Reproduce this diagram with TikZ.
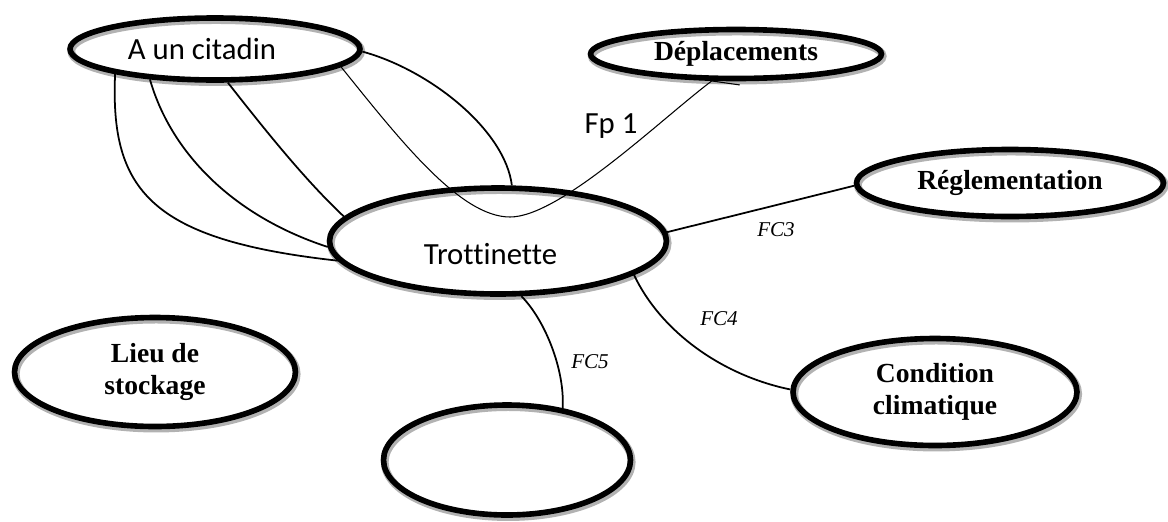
\documentclass[tikz,border=0pt]{standalone}
\usepackage{fontspec}
\usetikzlibrary{shapes.geometric}
\newfontfamily\calibrifont[Ligatures=NoCommon]{Carlito}
\newfontfamily\timesfont{Liberation Serif}
\tikzset{%
  bubble/.style    = {shape=ellipse, draw, line width=3.2pt, inner sep=0pt,%
                      align=center,%
                      preaction={draw=black!30, line width=4.4pt,%
                                 transform canvas={shift={(0.7pt,-1.2pt)}}}},%
  sansbubble/.style  = {bubble, font=\calibrifont\fontsize{17.5}{20}\selectfont},%
  serifbubble/.style = {bubble, font=\timesfont\bfseries\fontsize{15.7}{18}\selectfont},%
  link/.style      = {line width=1pt},%
  thinlink/.style  = {line width=0.6pt},%
  fclabel/.style   = {font=\timesfont\itshape\fontsize{12}{12}\selectfont, inner sep=0pt}%
}
\begin{document}
\begin{tikzpicture}[x=0.02cm,y=-0.02cm]
  \useasboundingbox (0,0) rectangle (1168,521);
  % les milieux
  \node[sansbubble, minimum width=5.8cm, minimum height=1.24cm] (cit) at (215,49) {A un citadin\hspace*{0.52cm}};
  \node[serifbubble, minimum width=5.82cm, minimum height=0.98cm] (dep) at (736,54) {D\'eplacements};
  \node[serifbubble, minimum width=6.14cm, minimum height=1.34cm] (reg) at (1010,183) {R\'eglementation};
  \node[sansbubble, minimum width=6.74cm, minimum height=2.12cm] (trot) at (498,241) {\rule{0pt}{0.95cm}Trottinette\hspace*{0.3cm}};
  \node[serifbubble, minimum width=5.62cm, minimum height=2.18cm] (lieu) at (155,372) {Lieu de\\stockage};
  \node[serifbubble, minimum width=5.68cm, minimum height=2.14cm] (clim) at (935,392) {Condition\\climatique};
  \node[bubble, minimum width=4.94cm, minimum height=2.2cm] (vide) at (507,460) {};
  % liaisons citadin -- trottinette
  \draw[link] (cit.194) .. controls (110,190) and (150,240) .. (trot.187.6);
  \draw[link] (cit.205) .. controls (170,150) and (230,215) .. (trot.182);
  \draw[link] (cit.291) .. controls (265,130) and (305,180) .. (trot.171.5);
  \draw[link] (cit.359) .. controls (430,70) and (505,130) .. (trot.76);
  % fonction principale
  \coordinate (fpbas) at (510,217);
  \draw[thinlink] (cit.352) .. controls (400,140) and (460,217) .. (fpbas)
    .. controls (560,217) and (660,120) .. (dep.228.5) -- ++(28,4);
  \node[font=\calibrifont\fontsize{17.5}{20}\selectfont, inner sep=0pt] (fp) at (611,126) {Fp 1};
  % fonctions contraintes
  \draw[link] (trot.3) -- (reg.181.8);
  \node[fclabel] (fc3) at (776,230) {FC3};
  \draw[link] (trot.346) .. controls (660,330) and (720,375) .. (clim.179);
  \node[fclabel] (fc4) at (719,319) {FC4};
  \draw[link] (trot.293.5) .. controls (545,320) and (565,370) .. (vide.43);
  \node[fclabel] (fc5) at (590,362) {FC5};
\end{tikzpicture}
\end{document}
